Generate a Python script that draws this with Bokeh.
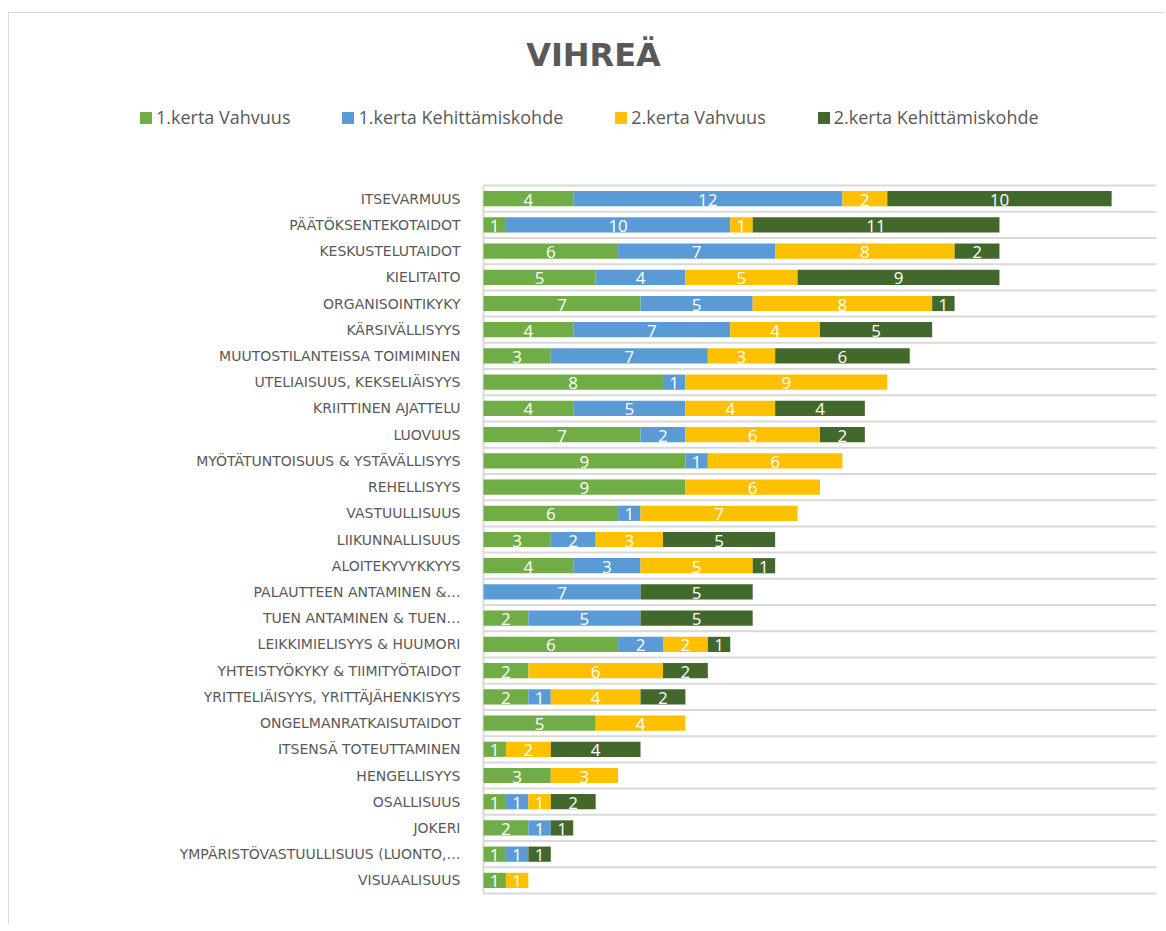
from bokeh.plotting import figure
from bokeh.models import Range1d, ColumnDataSource, Legend, LegendItem, Label
from bokeh.core.properties import value
from bokeh.embed import file_html
from bokeh.resources import INLINE

title_text = "VIHREÄ"

categories = [
    "ITSEVARMUUS",
    "PÄÄTÖKSENTEKOTAIDOT",
    "KESKUSTELUTAIDOT",
    "KIELITAITO",
    "ORGANISOINTIKYKY",
    "KÄRSIVÄLLISYYS",
    "MUUTOSTILANTEISSA TOIMIMINEN",
    "UTELIAISUUS, KEKSELIÄISYYS",
    "KRIITTINEN AJATTELU",
    "LUOVUUS",
    "MYÖTÄTUNTOISUUS & YSTÄVÄLLISYYS",
    "REHELLISYYS",
    "VASTUULLISUUS",
    "LIIKUNNALLISUUS",
    "ALOITEKYVYKKYYS",
    "PALAUTTEEN ANTAMINEN &…",
    "TUEN ANTAMINEN & TUEN…",
    "LEIKKIMIELISYYS & HUUMORI",
    "YHTEISTYÖKYKY & TIIMITYÖTAIDOT",
    "YRITTELIÄISYYS, YRITTÄJÄHENKISYYS",
    "ONGELMANRATKAISUTAIDOT",
    "ITSENSÄ TOTEUTTAMINEN",
    "HENGELLISYYS",
    "OSALLISUUS",
    "JOKERI",
    "YMPÄRISTÖVASTUULLISUUS (LUONTO,…",
    "VISUAALISUUS",
]

vahvuus_1 = [4, 1, 6, 5, 7, 4, 3, 8, 4, 7, 9, 9, 6, 3, 4, 0, 2, 6, 2, 2, 5, 1, 3, 1, 2, 1, 1]
kehitys_1 = [12, 10, 7, 4, 5, 7, 7, 1, 5, 2, 1, 0, 1, 2, 3, 7, 5, 2, 0, 1, 0, 0, 0, 1, 1, 1, 0]
vahvuus_2 = [2, 1, 8, 5, 8, 4, 3, 9, 4, 6, 6, 6, 7, 3, 5, 0, 0, 2, 6, 4, 4, 2, 3, 1, 0, 0, 1]
kehitys_2 = [10, 11, 2, 9, 1, 5, 6, 0, 4, 2, 0, 0, 0, 5, 1, 5, 5, 1, 2, 2, 0, 4, 0, 2, 1, 1, 0]

series_names = ["1.kerta Vahvuus", "1.kerta Kehittämiskohde", "2.kerta Vahvuus", "2.kerta Kehittämiskohde"]
colors = ["#70AD47", "#5B9BD5", "#FFC000", "#43682B"]

x_max = 30

series = [vahvuus_1, kehitys_1, vahvuus_2, kehitys_2]
keys = ["s1", "s2", "s3", "s4"]
n = len(categories)
ys = [n - 1 - i for i in range(n)]

# ---- page layout (pixels) ----
CANVAS_L, CANVAS_T = 9, 13          # canvas origin on the page
W, H = 1157, 912                    # canvas size
AX_L, AX_R = 483, 1156              # value axis extent on the page
AX_T, AX_B = 185, 893               # category axis extent on the page

ux = (AX_R - AX_L) / x_max          # px per value unit
uy = (AX_B - AX_T) / n              # px per category row

x_start = -(AX_L - CANVAS_L) / ux
x_end = (CANVAS_L + W - AX_L) / ux
y_start = -0.5 - (CANVAS_T + H - AX_B) / uy
y_end = -0.5 + (AX_B - CANVAS_T) / uy


def px_x(px):
    return (px - AX_L) / ux


def px_y(py):
    return -0.5 + (AX_B - py) / uy


p = figure(
    width=W, height=H,
    x_range=Range1d(x_start, x_end), y_range=Range1d(y_start, y_end),
    output_backend="svg", toolbar_location=None,
    x_axis_location=None, y_axis_location=None,
    min_border=0, min_border_left=0, min_border_right=0, min_border_top=0, min_border_bottom=0,
)
p.margin = (12, 0, 0, 8)
p.styles = {"border-left": "1px solid #d9d9d9", "border-top": "1px solid #d9d9d9"}
p.background_fill_color = "white"
p.border_fill_color = "white"
p.outline_line_color = None
p.xgrid.visible = False
p.ygrid.visible = False

# category gridlines (between rows)
bounds = [k - 0.5 for k in range(n + 1)]
p.segment(x0=[0] * len(bounds), x1=[x_max] * len(bounds), y0=bounds, y1=bounds,
          line_color="#d9d9d9", line_width=2)
# category axis line
p.segment(x0=[0], x1=[0], y0=[-0.5], y1=[n - 0.5], line_color="#d9d9d9", line_width=2)

source = ColumnDataSource(dict(y=ys, s1=vahvuus_1, s2=kehitys_1, s3=vahvuus_2, s4=kehitys_2))
renderers = p.hbar_stack(keys, y="y", height=0.58, fill_color=colors, line_color=None, source=source)

# category labels
p.text(x=[0] * n, y=ys, text=categories, x_offset=-23, text_align="right", text_baseline="middle",
       text_color="#595959", text_font=value("DejaVu Sans"), text_font_size="14px")

# data labels
cum = [0] * n
for vals in series:
    xs, yy, tx = [], [], []
    for i in range(n):
        v = vals[i]
        if v > 0:
            xs.append(cum[i] + v / 2)
            yy.append(ys[i])
            tx.append(str(v))
        cum[i] += v
    p.text(x=xs, y=yy, text=tx, text_color="white", text_font=value("Open Sans"),
           text_font_size="17px", text_align="center", text_baseline="middle", y_offset=1)

# title
p.add_layout(Label(x=px_x(593), y=px_y(54), text=title_text, text_align="center", text_baseline="middle",
                   text_font="DejaVu Sans", text_font_style="bold", text_font_size="32px",
                   text_color="#595959"))

# legend
legend = Legend(
    items=[LegendItem(label=nm, renderers=[r]) for nm, r in zip(series_names, renderers)],
    orientation="horizontal", location=(143 - CANVAS_L - 5, CANVAS_T + H - 129),
    glyph_width=15, glyph_height=15, label_standoff=3, label_width=0, spacing=50,
    padding=0, margin=0, border_line_color=None, background_fill_alpha=0,
    label_text_color="#595959", label_text_font="Open Sans", label_text_font_size="18px",
)
p.add_layout(legend)

open("out.html", "w").write(file_html(p, INLINE))
